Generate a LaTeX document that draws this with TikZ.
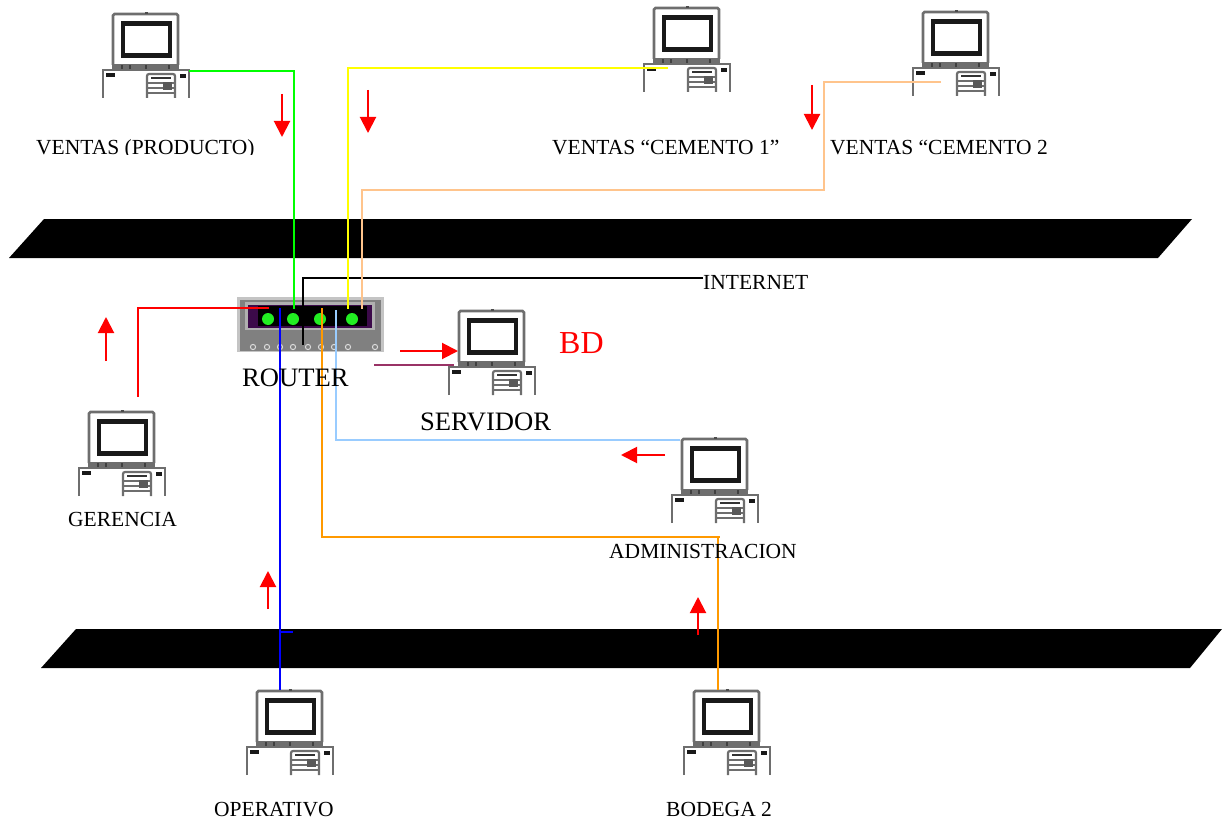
\documentclass[tikz,border=0pt]{standalone}
\usepackage{fontspec}
\setmainfont{Liberation Serif}
\usetikzlibrary{arrows.meta}
\definecolor{cgray}{HTML}{6E6E6E}
\definecolor{peach}{HTML}{FFC48C}
\definecolor{lblue}{HTML}{99CCFF}
\definecolor{orangeL}{HTML}{FF9900}
\definecolor{plum}{HTML}{993366}
\definecolor{greenL}{HTML}{00FF00}
\definecolor{yellowL}{HTML}{FFFF00}
\definecolor{display}{HTML}{3C0A4A}
\definecolor{led}{HTML}{22EE22}
\definecolor{rOuter}{HTML}{C4C4C4}
\definecolor{rMain}{HTML}{808080}
\definecolor{rInner}{HTML}{B0B0B0}
\tikzset{
  label/.style={anchor=base west,inner sep=0pt,font=\fontsize{21.5}{24}\selectfont},
  biglabel/.style={anchor=base west,inner sep=0pt,font=\fontsize{26.6}{30}\selectfont},
  wire/.style={line width=1.7pt,line join=miter},
  flow/.style={red,line width=2pt,-{Triangle[length=16pt,width=16pt]}},
  bar/.style={fill=black,draw=none},
  computer/.pic={
    \node[minimum width=86pt,minimum height=84pt,inner sep=0pt] (-box) at (33,42) {};
    \fill[white] (-10,56) rectangle (76,84);
    \draw[cgray,line width=2.6pt,rounded corners=1.5pt] (0,51)--(0,0)--(65,0)--(65,51);
    \fill[black!90] (8,7) rectangle (59,44);
    \fill[white] (12,12) rectangle (55,39);
    \fill[black!70] (32,-2) rectangle (34.5,0);
    \fill[cgray] (-1,50) rectangle (66,56);
    \foreach \t in {9,17,33,56} \fill[black!75] (\t-1,51) rectangle (\t+1,55);
    \draw[cgray,line width=2.6pt] (-10,84)--(-10,56)--(76,56)--(76,84);
    \fill[black!90] (-7,59) rectangle (2,63);
    \fill[black!90] (67,60) rectangle (73,64);
    \draw[cgray,line width=2.2pt,rounded corners=2pt,fill=white] (34,84)--(34,60)--(62,60)--(62,84);
    \fill[black!80] (38,63) rectangle (58,65);
    \draw[cgray,line width=1.4pt] (35,69)--(61,69) (35,74)--(61,74) (35,79)--(61,79);
    \fill[black!65] (50,68) rectangle (59,76);
  }
}
\begin{document}
\begin{tikzpicture}[x=1pt,y=-1pt]
\useasboundingbox (0,0) rectangle (1222,821);
% backbone bars
\path[bar] (44,219)--(1192,219)--(1158,258)--(9,258)--cycle;
\path[bar] (76,629)--(1222,629)--(1190,668)--(41,668)--cycle;
% computers
\pic (ventas) at (113,14) {computer};
\pic (cem1) at (654,8) {computer};
\pic (cem2) at (923,12) {computer};
\pic (serv) at (459,311) {computer};
\pic (ger) at (89,412) {computer};
\pic (adm) at (682,439) {computer};
\pic (oper) at (257,691) {computer};
\pic (bod) at (694,691) {computer};
% router
\node[fill=rOuter,minimum width=147pt,minimum height=55pt,inner sep=0pt] (router) at (310.5,324.5) {};
\fill[rMain] (240,300) rectangle (381,351);
\fill[rInner] (245,302) rectangle (375,330);
\fill[display] (248,305) rectangle (372,328);
\fill[black] (258,306) rectangle (367,326);
\foreach \x in {268,293,320,352} \fill[led] (\x,319) circle (6);
\foreach \x in {253,267,280,293,308,321,334,348,375} \draw[white!85!black,line width=1pt,fill=rMain] (\x,347) circle (2.6);
% ports
\coordinate (pVentas) at (189,71);
\coordinate (pGreen) at (294,309);
\coordinate (pCem1) at (668,68);
\coordinate (pYellow) at (348,309);
\coordinate (pCem2) at (941,82);
\coordinate (pPeach) at (362,309);
\coordinate (pInternet) at (703,278);
\coordinate (pBlack) at (303,345);
\coordinate (pGer) at (138,397);
\coordinate (pRed) at (269,308);
\coordinate (pOper) at (280,690);
\coordinate (pBlue) at (280,308);
\coordinate (pTickA) at (280,632);
\coordinate (pTickB) at (293,632);
\coordinate (pBod) at (718,690);
\coordinate (pOrange) at (322,308);
\coordinate (pAdm) at (680,440);
\coordinate (pLblue) at (336,310);
\coordinate (pServ) at (454,365);
\coordinate (pPlum) at (374,365);
% connectors
\draw[wire,black] (pInternet) -| (pBlack);
\draw[wire,greenL] (pVentas) -| (pGreen);
\draw[wire,yellowL] (pCem1) -| (pYellow);
\draw[wire,peach] (pCem2) -| (824,190) -| (pPeach);
\draw[wire,red] (pRed) -| (pGer);
\draw[wire,blue] (pOper) -- (pBlue);
\draw[wire,blue] (pTickA) -- (pTickB);
\draw[wire,orangeL] (pOrange) |- (720,537);
\draw[wire,orangeL] (718,537) -- (pBod);
\draw[wire,lblue] (pLblue) |- (pAdm);
\draw[wire,plum] (pPlum) -- (pServ);
% flow arrows
\foreach \n/\ax/\ay/\bx/\by in {a/282/94/282/137,b/368/90/368/133,c/812/85/812/130,d/106/361/106/317,e/400/351/458/351,f/665/455/621/455,g/268/609/268/571,h/698/635/698/597}{
  \coordinate (fl\n s) at (\ax,\ay);
  \coordinate (fl\n e) at (\bx,\by);
  \draw[flow] (fl\n s) -- (fl\n e);
}
% labels
\begin{scope}
\clip (0,130) rectangle (400,155);
\node[label] (l1) at (36,155) {VENTAS (PRODUCTO)};
\end{scope}
\node[label] (l2) at (552,155) {VENTAS “CEMENTO 1”};
\node[label] (l3) at (830,155) {VENTAS “CEMENTO 2};
\node[label] (l4) at (703,289) {INTERNET};
\node[label] (l5) at (68,526) {GERENCIA};
\node[label] (l6) at (609,558) {ADMINISTRACION};
\node[label] (l7) at (214,816) {OPERATIVO};
\node[label] (l8) at (666,816) {BODEGA 2};
\node[biglabel] (l9) at (242,386) {ROUTER};
\node[biglabel] (l10) at (420,430) {SERVIDOR};
\node[anchor=base west,inner sep=0pt,red,font=\fontsize{32}{36}\selectfont] (l11) at (559,353) {BD};
\end{tikzpicture}
\end{document}
